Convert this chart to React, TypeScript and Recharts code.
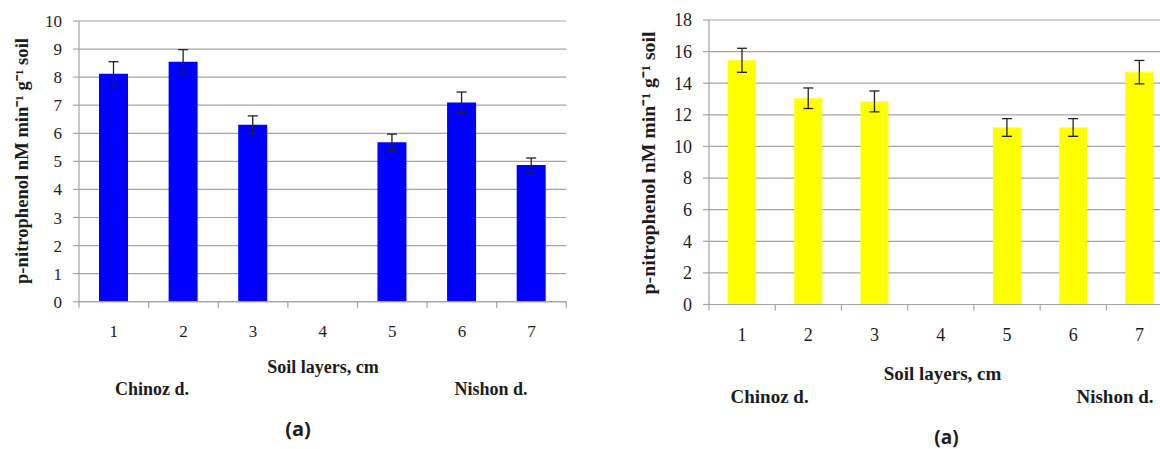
import React from 'react';
import { BarChart, Bar, XAxis, YAxis, CartesianGrid, ErrorBar } from 'recharts';

const layers = ['1', '2', '3', '4', '5', '6', '7'];

// layer 4 was not sampled, hence the gaps
const chinozActivity = [8.12, 8.55, 6.3, null, 5.68, 7.1, 4.87];
const chinozError = [0.43, 0.43, 0.32, null, 0.29, 0.37, 0.25];

const nishonActivity = [15.45, 13.05, 12.85, null, 11.2, 11.2, 14.7];
const nishonError = [0.76, 0.65, 0.66, null, 0.56, 0.56, 0.74];

const leftTicks = [0, 1, 2, 3, 4, 5, 6, 7, 8, 9, 10];
const rightTicks = [0, 2, 4, 6, 8, 10, 12, 14, 16, 18];

const GRID = '#a3a3a3';
const INK = '#1c1c1c';
const SERIF = '"Liberation Serif", "Times New Roman", serif';
const SANS = '"Open Sans", "Liberation Sans", sans-serif';

const yTitle = 'p-nitrophenol nM min\u207B\u00B9 g\u207B\u00B9 soil';

function buildRows(values: (number | null)[], errors: (number | null)[]) {
  return layers.map((layer, i) => ({ layer, value: values[i], err: errors[i] }));
}

// category label plus tick marks at the band edges
function LayerTick(props: any) {
  const { x, y, payload, index, visibleTicksCount, size } = props;
  const half = payload?.offset ?? 0;
  return (
    <g>
      <line x1={x - half} x2={x - half} y1={y} y2={y + 6} stroke={GRID} strokeWidth={1.2} />
      {index === visibleTicksCount - 1 && (
        <line x1={x + half} x2={x + half} y1={y} y2={y + 6} stroke={GRID} strokeWidth={1.2} />
      )}
      <text x={x} y={y + 30} textAnchor="middle" dominantBaseline="central" fill={INK} fontSize={size} fontFamily={SERIF}>
        {payload.value}
      </text>
    </g>
  );
}

function Caption({ x, y, size, family = SERIF, weight = 700, rotate = false, children }: any) {
  return (
    <div
      style={{
        position: 'absolute',
        left: x,
        top: y,
        transform: `translate(-50%, -50%)${rotate ? ' rotate(-90deg)' : ''}`,
        whiteSpace: 'nowrap',
        fontFamily: family,
        fontWeight: weight,
        fontSize: size,
        lineHeight: 1,
        color: INK,
      }}
    >
      {children}
    </div>
  );
}

function ActivityChart({ rows, color, ticks, max, width, yWidth, barSize, marginRight, top, bottom, fontSize }: any) {
  return (
    <BarChart
      width={width}
      height={449}
      data={rows}
      margin={{ top, right: marginRight, left: 0, bottom }}
    >
      <CartesianGrid vertical={false} stroke={GRID} strokeWidth={1.2} />
      <XAxis
        dataKey="layer"
        interval={0}
        height={40}
        tickLine={false}
        tickSize={0}
        tickMargin={0}
        axisLine={{ stroke: GRID, strokeWidth: 1.2 }}
        tick={<LayerTick size={fontSize} />}
      />
      <YAxis
        width={yWidth}
        domain={[0, max]}
        ticks={ticks}
        interval={0}
        tickSize={6}
        tickMargin={11}
        tickLine={{ stroke: GRID, strokeWidth: 1.2 }}
        axisLine={{ stroke: GRID, strokeWidth: 1.2 }}
        tick={{ fill: INK, fontSize, fontFamily: SERIF }}
      />
      <Bar dataKey="value" fill={color} barSize={barSize} isAnimationActive={false}>
        <ErrorBar dataKey="err" width={5} stroke="#222" strokeWidth={1.3} isAnimationActive={false} />
      </Bar>
    </BarChart>
  );
}

export default function App() {
  return (
    <div style={{ position: 'absolute', left: 0, top: 0, width: 1160, height: 449, overflow: 'hidden', background: '#fff' }}>
      <div style={{ position: 'absolute', left: 0, top: 0 }}>
        <ActivityChart
          rows={buildRows(chinozActivity, chinozError)}
          color="#0000ff"
          ticks={leftTicks}
          max={10}
          width={580}
          yWidth={79}
          barSize={29}
          marginRight={13.7}
          top={21}
          bottom={107.3}
          fontSize={17}
        />
      </div>
      <div style={{ position: 'absolute', left: 580, top: 0 }}>
        <ActivityChart
          rows={buildRows(nishonActivity, nishonError)}
          color="#ffff00"
          ticks={rightTicks}
          max={18}
          width={600}
          yWidth={129}
          barSize={28}
          marginRight={7.4}
          top={20}
          bottom={104.5}
          fontSize={18}
        />
      </div>

      <Caption x={22} y={161} size={18.6} rotate>{yTitle}</Caption>
      <Caption x={323} y={367} size={18}>Soil layers, cm</Caption>
      <Caption x={152} y={389} size={18}>Chinoz d.</Caption>
      <Caption x={491} y={389} size={18}>Nishon d.</Caption>
      <Caption x={298} y={429} size={20} family={SANS}>(a)</Caption>

      <Caption x={649} y={163} size={19.8} rotate>{yTitle}</Caption>
      <Caption x={942.5} y={373} size={19}>Soil layers, cm</Caption>
      <Caption x={769.6} y={396} size={19}>Chinoz d.</Caption>
      <Caption x={1115} y={396} size={19}>Nishon d.</Caption>
      <Caption x={946.5} y={437} size={19} family={SANS}>(a)</Caption>
    </div>
  );
}
